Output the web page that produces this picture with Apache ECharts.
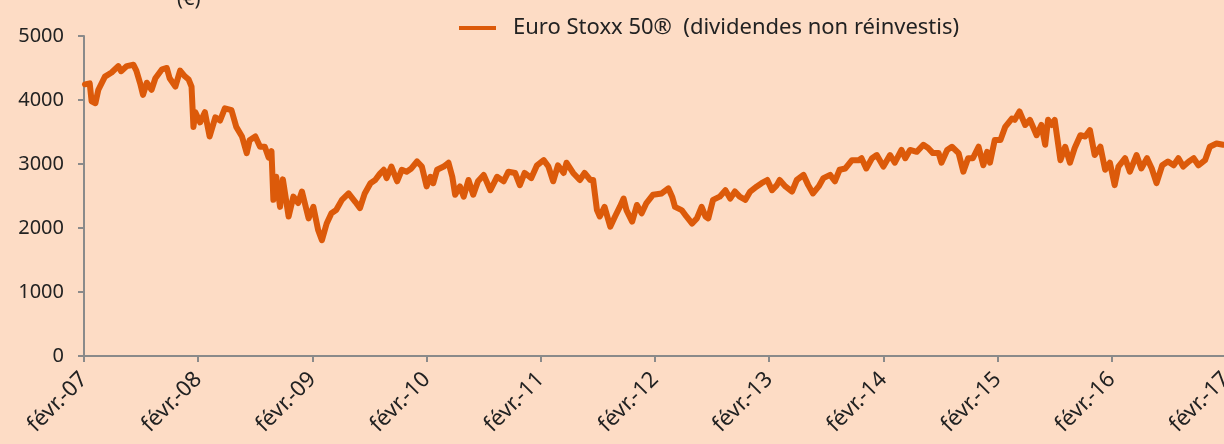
<!DOCTYPE html>
<html>
<head>
<meta charset="utf-8">
<script src="https://cdn.jsdelivr.net/npm/echarts@6/dist/echarts.min.js"></script>
<style>
  html, body { margin: 0; padding: 0; background: #FDDCC5; }
  #main { width: 1224px; height: 444px; }
</style>
</head>
<body>
<div id="main"></div>
<script>
// months elapsed since févr. 2007
var months = [
  0.1, 0.6, 0.8, 1.2, 1.5, 2.2, 2.9, 3.6, 3.9, 4.5, 5.2, 5.5, 5.9, 6.2, 6.6, 7.1, 7.5, 8.2, 8.7, 9.0,
  9.6, 10.1, 10.6, 11.0, 11.3, 11.5, 11.7, 12.2, 12.7, 13.2, 13.8, 14.3, 14.8, 15.5, 16.0, 16.6, 17.1, 17.4, 18.0, 18.5,
  19.0, 19.4, 19.7, 19.9, 20.2, 20.6, 20.9, 21.5, 22.0, 22.5, 22.9, 23.6, 24.1, 24.6, 25.0, 25.5, 26.0, 26.5, 27.1, 27.8,
  28.5, 29.0, 29.5, 30.1, 30.6, 31.1, 31.5, 31.8, 32.3, 32.9, 33.4, 33.9, 34.4, 35.0, 35.5, 36.0, 36.4, 36.7, 37.1, 37.8,
  38.3, 38.7, 39.0, 39.5, 39.9, 40.4, 40.9, 41.4, 42.0, 42.7, 43.4, 44.1, 44.6, 45.3, 45.8, 46.3, 47.0, 47.6, 48.3, 48.8,
  49.3, 49.8, 50.4, 50.7, 51.4, 52.1, 52.6, 53.2, 53.5, 53.9, 54.2, 54.7, 55.3, 55.8, 56.3, 56.7, 57.0, 57.6, 58.1, 58.6,
  59.1, 59.8, 60.7, 61.4, 61.8, 62.1, 62.8, 63.3, 63.9, 64.4, 64.9, 65.3, 65.6, 66.1, 66.8, 67.4, 67.9, 68.4, 68.9, 69.5,
  70.0, 70.7, 71.2, 71.8, 72.3, 72.8, 73.1, 73.7, 74.4, 74.9, 75.6, 76.1, 76.6, 77.2, 77.7, 78.4, 78.9, 79.4, 80.0, 80.7,
  81.4, 81.7, 82.2, 82.8, 83.3, 84.0, 84.7, 85.2, 85.9, 86.3, 86.8, 87.5, 88.2, 88.7, 89.2, 89.8, 90.1, 90.7, 91.2, 91.9,
  92.4, 92.9, 93.4, 94.0, 94.5, 94.9, 95.2, 95.7, 96.3, 96.8, 97.5, 97.8, 98.3, 98.9, 99.4, 100.1, 100.6, 101.0, 101.3, 101.7,
  102.0, 102.6, 103.1, 103.6, 104.1, 104.7, 105.2, 105.7, 106.2, 106.8, 107.3, 107.8, 108.3, 108.7, 109.4, 109.9, 110.6, 111.1, 111.7, 112.2,
  112.7, 113.3, 113.9, 114.5, 115.0, 115.5, 116.1, 116.6, 117.1, 117.8, 118.3, 119.0, 119.7
];
var stoxxValues = [
  4245, 4260, 3980, 3950, 4156, 4365, 4430, 4530, 4450, 4530, 4550, 4460, 4260, 4080, 4270, 4160, 4340, 4480, 4500, 4340,
  4210, 4460, 4370, 4320, 4210, 3580, 3810, 3650, 3810, 3430, 3730, 3680, 3870, 3840, 3580, 3430, 3170, 3370, 3430, 3270,
  3270, 3100, 3200, 2440, 2800, 2330, 2760, 2180, 2490, 2390, 2570, 2150, 2330, 1970, 1810, 2070, 2230, 2280, 2440, 2540,
  2410, 2310, 2540, 2700, 2750, 2850, 2910, 2780, 2960, 2730, 2910, 2880, 2930, 3040, 2960, 2650, 2800, 2700, 2910, 2960,
  3020, 2800, 2520, 2650, 2490, 2750, 2520, 2730, 2830, 2590, 2800, 2730, 2880, 2860, 2670, 2860, 2780, 2980, 3060, 2960,
  2730, 2980, 2860, 3020, 2860, 2750, 2860, 2750, 2750, 2280, 2180, 2330, 2020, 2180, 2330, 2460, 2280, 2100, 2360, 2230,
  2390, 2520, 2540, 2620, 2490, 2330, 2280, 2180, 2070, 2150, 2330, 2180, 2150, 2440, 2490, 2590, 2460, 2570, 2490, 2440,
  2570, 2650, 2700, 2750, 2590, 2670, 2750, 2650, 2570, 2750, 2830, 2670, 2540, 2650, 2780, 2830, 2730, 2910, 2930, 3060,
  3060, 3090, 2930, 3090, 3140, 2960, 3140, 3020, 3220, 3090, 3220, 3190, 3300, 3250, 3170, 3170, 3020, 3220, 3270, 3170,
  2880, 3090, 3090, 3270, 2980, 3190, 3020, 3375, 3375, 3580, 3710, 3690, 3820, 3610, 3690, 3450, 3610, 3300, 3690, 3610,
  3690, 3060, 3270, 3020, 3250, 3450, 3430, 3530, 3140, 3270, 2910, 3020, 2670, 2960, 3090, 2880, 3140, 2930, 3090, 2930,
  2700, 2980, 3040, 2980, 3090, 2960, 3040, 3090, 2980, 3060, 3270, 3320, 3300
];
var yTicks = [0, 1000, 2000, 3000, 4000, 5000];
var seriesName = 'Euro Stoxx 50®  (dividendes non réinvestis)';
var unitText = '(€)';

var chart = echarts.init(document.getElementById('main'));
var font = 'Noto Sans';
var axisGrey = '#8A8A8A';

function yearLabel(v) {
  var y = 7 + Math.round(v / 12);
  return 'févr.-' + (y < 10 ? '0' + y : '' + y);
}

var option = {
  backgroundColor: '#FDDCC5',
  animation: false,
  textStyle: { fontFamily: font },
  title: {
    text: unitText,
    left: 172,
    top: -16,
    textStyle: { fontFamily: font, fontSize: 20, fontWeight: 'normal', color: '#222' }
  },
  legend: {
    data: [seriesName],
    left: 459,
    top: 17,
    padding: 0,
    icon: 'rect',
    itemWidth: 37,
    itemHeight: 4,
    textStyle: { fontFamily: font, fontSize: 22, color: '#222', padding: [0, 0, 0, 12] }
  },
  grid: { left: 84, right: -2, top: 36, bottom: 88, outerBoundsMode: 'none' },
  xAxis: {
    type: 'value',
    min: 0,
    max: 120,
    interval: 12,
    axisLine: { lineStyle: { color: axisGrey, width: 2 } },
    axisTick: { show: true, length: 6, lineStyle: { color: axisGrey, width: 2 } },
    splitLine: { show: false },
    axisLabel: {
      rotate: 45,
      margin: 20,
      fontFamily: font,
      fontSize: 22,
      color: '#222',
      formatter: yearLabel
    }
  },
  yAxis: {
    type: 'value',
    min: yTicks[0],
    max: yTicks[yTicks.length - 1],
    interval: 1000,
    axisLine: { show: true, lineStyle: { color: axisGrey, width: 2 } },
    axisTick: { show: true, length: 6, lineStyle: { color: axisGrey, width: 2 } },
    splitLine: { show: false },
    axisLabel: { margin: 20, fontFamily: font, fontSize: 20, color: '#222', formatter: function(v) { return String(v); } }
  },
  series: [{
    name: seriesName,
    type: 'line',
    showSymbol: false,
    color: '#DC5A0A',
    lineStyle: { width: 6, color: '#DC5A0A', join: 'round', cap: 'round' },
    data: months.map(function(m, i) { return [m, stoxxValues[i]]; })
  }]
};
chart.setOption(option);
</script>
</body>
</html>
